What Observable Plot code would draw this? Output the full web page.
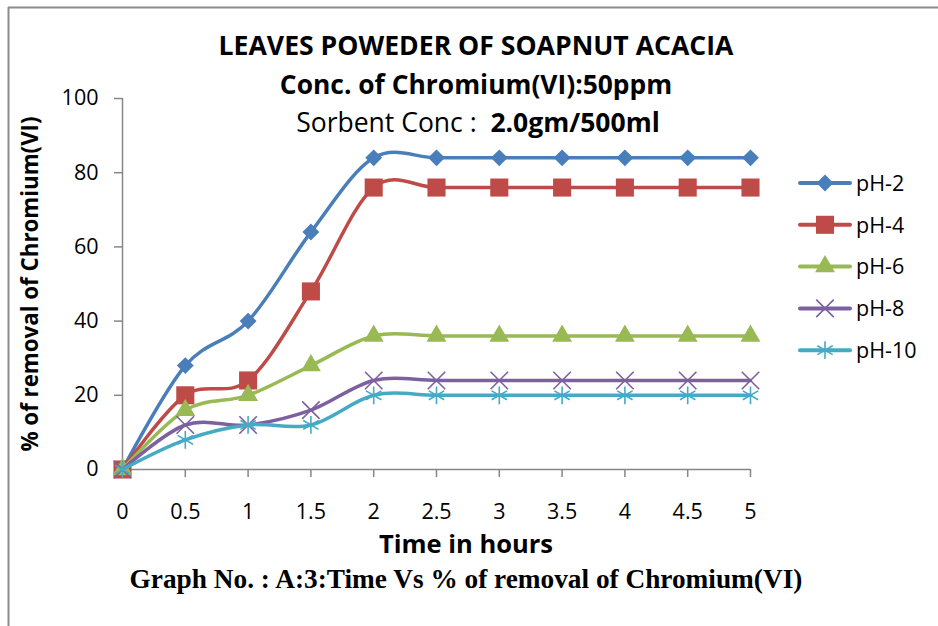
<!DOCTYPE html>
<html>
<head>
<meta charset="utf-8">
<script src="https://cdn.jsdelivr.net/npm/d3@7"></script>
<script src="https://cdn.jsdelivr.net/npm/@observablehq/plot@0.6"></script>
<style>
  html, body { margin: 0; padding: 0; background: #fff; }
  #chart { width: 938px; height: 626px; overflow: hidden; }
</style>
</head>
<body>
<div id="chart"></div>
<script>
// ---- data ----
const times = [0, 0.5, 1, 1.5, 2, 2.5, 3, 3.5, 4, 4.5, 5];
const pH2  = [0, 28, 40, 64, 84, 84, 84, 84, 84, 84, 84];
const pH4  = [0, 20, 24, 48, 76, 76, 76, 76, 76, 76, 76];
const pH6  = [0, 16, 20, 28, 36, 36, 36, 36, 36, 36, 36];
const pH8  = [0, 12, 12, 16, 24, 24, 24, 24, 24, 24, 24];
const pH10 = [0, 8, 12, 12, 20, 20, 20, 20, 20, 20, 20];
const seriesNames = ["pH-2", "pH-4", "pH-6", "pH-8", "pH-10"];
const seriesValues = [pH2, pH4, pH6, pH8, pH10];
const xTicks = [0, 0.5, 1, 1.5, 2, 2.5, 3, 3.5, 4, 4.5, 5];
const yTicks = [0, 20, 40, 60, 80, 100];
const titleLines = ["LEAVES POWEDER OF SOAPNUT ACACIA", "Conc. of Chromium(VI):50ppm"];
const subtitleParts = ["Sorbent Conc :  ", "2.0gm/500ml"];
const xLabel = "Time in hours";
const yLabel = "% of removal of Chromium(VI)";
const caption = "Graph No. : A:3:Time Vs % of removal of Chromium(VI)";

// ---- styles ----
const colors = ["#4A7EBB", "#BE4B48", "#98B954", "#7D60A0", "#46AAC5"];
const symbols = ["diamond2", "square", "triangle", "times", "asterisk"];
const symR = [7.6, 10.2, 7.4, 8.0, 8.4];
const filled = [true, true, true, false, false];
const font = "'Open Sans', 'Liberation Sans', sans-serif";

const rows = [];
seriesNames.forEach((name, i) => {
  times.forEach((t, j) => rows.push({series: name, idx: i, t, v: seriesValues[i][j]}));
});

const marks = [
  Plot.axisY(yTicks, {tickSize: 8, tickPadding: 16, stroke: "#868686", strokeWidth: 1.5,
    fontSize: 21.5, fill: "#000", label: null}),
  Plot.axisX(xTicks, {tickSize: 8, tickPadding: 26, stroke: "#868686", strokeWidth: 1.5,
    fontSize: 21.5, fill: "#000", label: null, tickFormat: d => String(d)}),
  Plot.ruleX([0], {stroke: "#868686", strokeWidth: 1.5}),
  Plot.ruleY([0], {stroke: "#868686", strokeWidth: 1.5})
];
seriesNames.forEach((name, i) => {
  const d = rows.filter(r => r.idx === i);
  marks.push(Plot.line(d, {x: "t", y: "v", stroke: colors[i], strokeWidth: 3.5, curve: "cardinal"}));
  marks.push(Plot.dot(d, filled[i]
    ? {x: "t", y: "v", symbol: symbols[i], r: symR[i], fill: colors[i], stroke: "none"}
    : {x: "t", y: "v", symbol: symbols[i], r: symR[i], fill: "none", stroke: colors[i], strokeWidth: 1.6}));
});

const plot = Plot.plot({
  width: 938,
  height: 626,
  marginLeft: 122,
  marginRight: 188,
  marginTop: 98,
  marginBottom: 157,
  style: {fontFamily: font, background: "#fff", overflow: "visible"},
  x: {domain: [0, 5]},
  y: {domain: [0, 100]},
  marks
});

const svg = d3.select(plot);

// frame border
svg.append("line").attr("x1", 8).attr("x2", 938).attr("y1", 7.5).attr("y2", 7.5)
  .attr("stroke", "#8c8c8c").attr("stroke-width", 2);
svg.append("line").attr("x1", 8.5).attr("x2", 8.5).attr("y1", 7).attr("y2", 626)
  .attr("stroke", "#8c8c8c").attr("stroke-width", 2);

// titles
const tg = svg.append("g").attr("font-family", font).attr("text-anchor", "middle").attr("fill", "#000");
tg.append("text").attr("x", 476).attr("y", 55).attr("font-size", 26.6).attr("font-weight", "bold").text(titleLines[0]);
tg.append("text").attr("x", 476).attr("y", 94).attr("font-size", 26.4).attr("font-weight", "bold").text(titleLines[1]);
const st = tg.append("text").attr("x", 478).attr("y", 132).attr("font-size", 26.5);
st.append("tspan").attr("font-weight", "normal").style("white-space", "pre").text(subtitleParts[0]);
st.append("tspan").attr("font-weight", "bold").text(subtitleParts[1]);

// axis labels
tg.append("text").attr("x", 466).attr("y", 553).attr("font-size", 25.5).attr("font-weight", "bold").text(xLabel);
tg.append("text").attr("transform", "translate(38,284) rotate(-90)").attr("font-size", 22.3)
  .attr("font-weight", "bold").text(yLabel);
tg.append("text").attr("x", 466).attr("y", 588).attr("font-size", 27.3).attr("font-weight", "bold")
  .attr("font-family", "'Liberation Serif', 'Times New Roman', serif").text(caption);

// legend
const lg = svg.append("g").attr("font-family", font).attr("text-anchor", "start");
seriesNames.forEach((name, i) => {
  const y = 183 + i * 41.8;
  lg.append("line").attr("x1", 800).attr("x2", 850).attr("y1", y).attr("y2", y)
    .attr("stroke", colors[i]).attr("stroke-width", 4).attr("stroke-linecap", "round");
  const sym = {diamond2: d3.symbolDiamond2, square: d3.symbolSquare, triangle: d3.symbolTriangle,
    times: d3.symbolTimes, asterisk: d3.symbolAsterisk}[symbols[i]];
  const p = lg.append("path").attr("transform", `translate(825,${y})`)
    .attr("d", d3.symbol(sym, Math.PI * symR[i] * symR[i])());
  if (filled[i]) p.attr("fill", colors[i]);
  else p.attr("fill", "none").attr("stroke", colors[i]).attr("stroke-width", 1.6);
  lg.append("text").attr("x", 856).attr("y", y).attr("dy", "0.36em").attr("font-size", 21.5)
    .attr("fill", "#000").text(name);
});

document.getElementById("chart").appendChild(plot);
</script>
</body>
</html>
